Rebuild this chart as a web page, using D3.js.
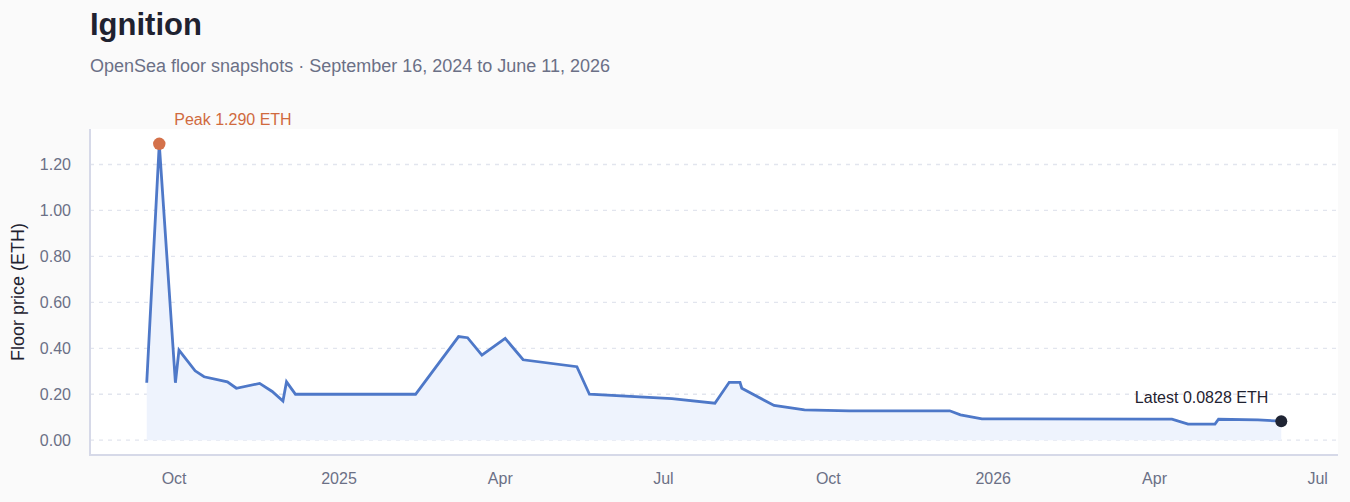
<!DOCTYPE html>
<html>
<head>
<meta charset="utf-8">
<script src="https://cdn.jsdelivr.net/npm/d3@7"></script>
<style>
  html, body { margin: 0; padding: 0; background: #fafafa; }
  body { width: 1350px; height: 502px; overflow: hidden; font-family: "Liberation Sans", Arial, Helvetica, sans-serif; }
</style>
</head>
<body>
<div id="chart"></div>
<script>
// snapshot dates and floor prices (ETH)
var dates = [
  '2024-09-16', '2024-09-23', '2024-10-02', '2024-10-04', '2024-10-13', '2024-10-18',
  '2024-10-31', '2024-11-05', '2024-11-18', '2024-11-25', '2024-12-01', '2024-12-03',
  '2024-12-08', '2025-02-13', '2025-03-09', '2025-03-14', '2025-03-22', '2025-04-04',
  '2025-04-14', '2025-05-14', '2025-05-21', '2025-07-06', '2025-07-30', '2025-08-07',
  '2025-08-13', '2025-08-14', '2025-09-01', '2025-09-18', '2025-10-13', '2025-12-08',
  '2025-12-14', '2025-12-26', '2026-03-31', '2026-04-11', '2026-04-20', '2026-05-05',
  '2026-05-07', '2026-05-29', '2026-06-11'
];
var prices = [
  0.25, 1.29, 0.25, 0.392, 0.302, 0.276,
  0.254, 0.226, 0.247, 0.212, 0.170, 0.254,
  0.20, 0.20, 0.451, 0.446, 0.37, 0.443,
  0.35, 0.32, 0.20, 0.181, 0.161, 0.252,
  0.252, 0.226, 0.151, 0.132, 0.128, 0.128,
  0.11, 0.093, 0.092, 0.092, 0.07, 0.07,
  0.091, 0.088, 0.0828
];

var yTicks = [0, 0.2, 0.4, 0.6, 0.8, 1.0, 1.2];
var xTickDates = ['2024-10-01', '2025-01-01', '2025-04-01', '2025-07-01', '2025-10-01', '2026-01-01', '2026-04-01', '2026-07-01'];
var xTickLabels = ['Oct', '2025', 'Apr', 'Jul', 'Oct', '2026', 'Apr', 'Jul'];

var width = 1350, height = 502;
var margin = { top: 129, right: 12, bottom: 47, left: 90 };
var plotW = width - margin.left - margin.right;
var plotH = height - margin.top - margin.bottom;

var parse = d3.utcParse('%Y-%m-%d');
var data = dates.map(function (d, i) { return { date: parse(d), value: prices[i] }; });

var svg = d3.select('#chart').append('svg').attr('width', width).attr('height', height);

// padded domains (5% each side)
var xExt = d3.extent(data, function (d) { return d.date; });
var xPad = (xExt[1] - xExt[0]) * 0.05;
var x = d3.scaleUtc()
  .domain([new Date(+xExt[0] - xPad), new Date(+xExt[1] + xPad)])
  .range([margin.left, margin.left + plotW]);

var yMax = d3.max(prices);
var y = d3.scaleLinear()
  .domain([-yMax * 0.05, yMax * 1.05])
  .range([margin.top + plotH, margin.top]);

// title block
svg.append('text').attr('x', 90).attr('y', 35)
  .attr('font-size', 31).attr('font-weight', 700).attr('fill', '#1f2230')
  .text('Ignition');
svg.append('text').attr('x', 90).attr('y', 72)
  .attr('font-size', 18).attr('fill', '#6b7086')
  .text('OpenSea floor snapshots \u00b7 September 16, 2024 to June 11, 2026');

// plot background
svg.append('rect')
  .attr('x', margin.left).attr('y', margin.top)
  .attr('width', plotW).attr('height', plotH)
  .attr('fill', '#ffffff');

// grid
svg.append('g').selectAll('line')
  .data(yTicks).enter().append('line')
  .attr('x1', margin.left).attr('x2', margin.left + plotW)
  .attr('y1', function (d) { return y(d); }).attr('y2', function (d) { return y(d); })
  .attr('stroke', '#e2e5ee').attr('stroke-width', 1.3)
  .attr('stroke-dasharray', '4,5');

// y axis
var yAxis = svg.append('g')
  .attr('transform', 'translate(' + margin.left + ',0)')
  .call(d3.axisLeft(y).tickValues(yTicks).tickFormat(d3.format('.2f')).tickSize(0).tickPadding(19));
yAxis.select('.domain').remove();
yAxis.selectAll('text').attr('font-size', 16).attr('fill', '#6b7086')
  .attr('font-family', '"Liberation Sans", Arial, sans-serif');

// x axis
var xAxis = svg.append('g')
  .attr('transform', 'translate(0,' + (margin.top + plotH) + ')')
  .call(d3.axisBottom(x)
    .tickValues(xTickDates.map(parse))
    .tickFormat(function (d, i) { return xTickLabels[i]; })
    .tickSize(0).tickPadding(18));
xAxis.select('.domain').remove();
xAxis.selectAll('text').attr('font-size', 16).attr('fill', '#6b7086')
  .attr('font-family', '"Liberation Sans", Arial, sans-serif');

// axis frame lines
svg.append('line')
  .attr('x1', margin.left).attr('x2', margin.left)
  .attr('y1', margin.top).attr('y2', margin.top + plotH + 1)
  .attr('stroke', '#d6d9e8').attr('stroke-width', 2);
svg.append('line')
  .attr('x1', margin.left).attr('x2', margin.left + plotW)
  .attr('y1', margin.top + plotH).attr('y2', margin.top + plotH)
  .attr('stroke', '#d6d9e8').attr('stroke-width', 2);

// y label
svg.append('text')
  .attr('transform', 'translate(24,' + (margin.top + plotH / 2) + ') rotate(-90)')
  .attr('text-anchor', 'middle')
  .attr('font-size', 18).attr('fill', '#1f2230')
  .text('Floor price (ETH)');

// area + line
var area = d3.area()
  .x(function (d) { return x(d.date); })
  .y0(y(0))
  .y1(function (d) { return y(d.value); });
svg.append('path').datum(data)
  .attr('d', area)
  .attr('fill', '#eef3fd');

var line = d3.line()
  .x(function (d) { return x(d.date); })
  .y(function (d) { return y(d.value); });
svg.append('path').datum(data)
  .attr('d', line)
  .attr('fill', 'none')
  .attr('stroke', '#4e78c8')
  .attr('stroke-width', 2.8)
  .attr('stroke-linejoin', 'miter');

// peak marker
var peak = data[d3.maxIndex(data, function (d) { return d.value; })];
svg.append('circle')
  .attr('cx', x(peak.date)).attr('cy', y(peak.value)).attr('r', 6.2)
  .attr('fill', '#d4714a');
svg.append('text')
  .attr('x', x(peak.date) + 15).attr('y', y(peak.value) - 19)
  .attr('font-size', 16).attr('fill', '#d06a3e')
  .text('Peak ' + d3.format('.3f')(peak.value) + ' ETH');

// latest marker
var last = data[data.length - 1];
svg.append('circle')
  .attr('cx', x(last.date)).attr('cy', y(last.value)).attr('r', 6)
  .attr('fill', '#1f2433');
svg.append('text')
  .attr('x', x(last.date) - 13).attr('y', y(last.value) - 18)
  .attr('text-anchor', 'end')
  .attr('font-size', 16).attr('fill', '#1f2230')
  .text('Latest ' + last.value + ' ETH');
</script>
</body>
</html>
